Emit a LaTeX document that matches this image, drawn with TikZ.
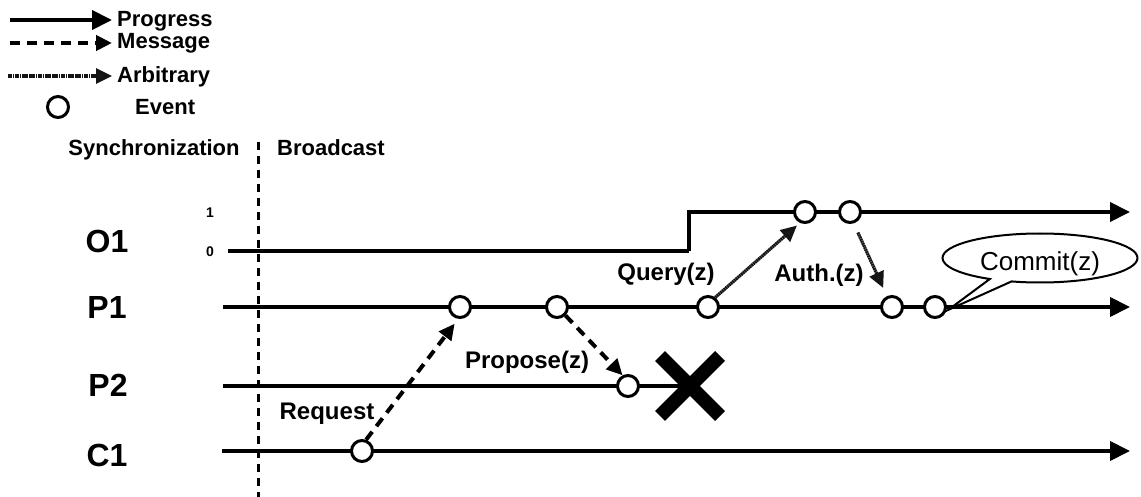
\documentclass[tikz,border=0pt]{standalone}
\usepackage{fontspec}
\setmainfont{Liberation Sans}
\usetikzlibrary{arrows.meta,shapes.callouts}
\begin{document}
\begin{tikzpicture}[x=1pt,y=-1pt,
  lane/.style={line width=4pt},
  progress/.style={line width=4pt,-{Triangle[length=20pt,width=19pt]}},
  message/.style={line width=4pt,dash pattern=on 10pt off 7pt,
    -{Triangle[length=16pt,width=15pt]}},
  arbitrary/.style={line width=3.2pt,draw=black!92,dash pattern=on 1.8pt off 0.5pt,
    -{Triangle[length=16pt,width=15pt,fill=black!90]}},
  event/.style={circle,draw,line width=3pt,fill=white,minimum size=21pt,inner sep=0pt},
  legtext/.style={font=\fontsize{22}{26}\selectfont\bfseries,inner sep=0pt,anchor=base west},
  sectext/.style={font=\fontsize{22}{26}\selectfont\bfseries,inner sep=0pt,anchor=base},
  msgtext/.style={font=\fontsize{24}{28}\selectfont\bfseries,inner sep=0pt,anchor=base},
  lanetext/.style={font=\fontsize{32}{36}\selectfont\bfseries,inner sep=0pt,anchor=base},
  leveltext/.style={font=\fontsize{14}{16}\selectfont\bfseries,inner sep=0pt,anchor=base},
  bubble/.style={ellipse callout,draw,line width=2pt,fill=white,inner sep=0pt,
    minimum width=195pt,minimum height=49pt,callout pointer arc=14,
    text height=30pt,text depth=4pt,font=\fontsize{26}{30}\selectfont}
]
\useasboundingbox (0,0) rectangle (1141,497);

% legend
\coordinate (lpa) at (10,20);  \coordinate (lpb) at (112,20);
\coordinate (lma) at (10,43);  \coordinate (lmb) at (112,43);
\coordinate (laa) at (8,76);   \coordinate (lab) at (112,76);
\draw[progress] (lpa) -- (lpb);
\draw[message] (lma) -- (lmb);
\draw[arbitrary] (laa) -- (lab);
\node[event] (lev) at (58,107) {};
\node[legtext] (tprog) at (117,27) {Progress};
\node[legtext] (tmsg) at (117,49) {Message};
\node[legtext] (tarb) at (117,83) {Arbitrary};
\node[legtext] (tev) at (135,115) {Event};

% phases
\node[sectext] (tsync) at (154,156) {Synchronization};
\node[sectext] (tbc) at (331,156) {Broadcast};
\coordinate (sepa) at (258,142); \coordinate (sepb) at (258,497);
\draw[line width=3pt,dash pattern=on 8pt off 6pt] (sepa) -- (sepb);

% lane names
\node[lanetext] (lo1) at (107,252.5) {O1};
\node[lanetext] (lp1) at (107,318.5) {P1};
\node[lanetext] (lp2) at (108,396.5) {P2};
\node[lanetext] (lc1) at (107,466.5) {C1};
\node[leveltext] (lvone) at (210,218) {1};
\node[leveltext] (lvzero) at (210,257) {0};

% time lines
\coordinate (o1s) at (228,251); \coordinate (o1k) at (689,251);
\coordinate (o1u) at (689,212); \coordinate (o1e) at (1130,212);
\coordinate (p1s) at (223,307); \coordinate (p1e) at (1130,307);
\coordinate (p2s) at (223,386); \coordinate (p2x) at (690,386);
\coordinate (c1s) at (222,451); \coordinate (c1e) at (1130,451);
\draw[lane] (o1s) -- (o1k);
\draw[progress] (o1k) -- (o1u) -- (o1e);
\draw[progress] (p1s) -- (p1e);
\draw[lane] (p2s) -- (p2x);
\draw[progress] (c1s) -- (c1e);

% crash of P2
\draw[line width=14pt] (660,356) -- (720,416) (660,416) -- (720,356);

% events
\node[event] (o1a) at (805,212) {};
\node[event] (o1b) at (850,212) {};
\node[event] (p1a) at (460,307) {};
\node[event] (p1b) at (557,307) {};
\node[event] (p1c) at (708,307) {};
\node[event] (p1d) at (892,307) {};
\node[event] (p1e) at (935,307) {};
\node[event] (p2a) at (628,386) {};
\node[event] (c1a) at (362,451) {};

% messages
\draw[message,shorten >=6pt] (c1a.70) -- (p1a.262);
\draw[message] (p1b.-45) -- (p2a.117);
\draw[arbitrary,shorten >=4pt] (p1c.53) -- (o1a.245);
\draw[arbitrary,shorten <=10pt,shorten >=9pt] (o1b.-72) -- (p1d.115);

% labels
\node[msgtext] (trq) at (327,419) {Request};
\node[msgtext] (tpr) at (527,368) {Propose(z)};
\node[msgtext] (tqu) at (666,280) {Query(z)};
\node[msgtext] (tau) at (819,281) {Auth.(z)};

% commit bubble
\coordinate (ctip) at (948,310);
\node[bubble,callout absolute pointer={(ctip)}] (commit) at (1040,258) {Commit(z)};
\end{tikzpicture}
\end{document}
